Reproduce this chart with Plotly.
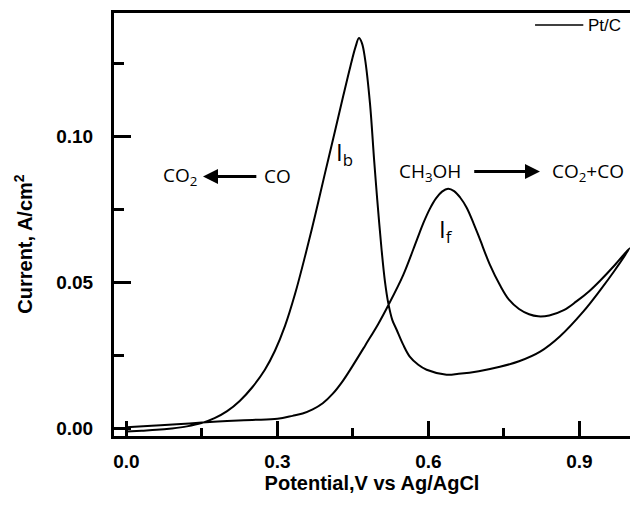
import plotly.graph_objects as go

# Forward (anodic) scan, 0 -> 1.0 V
fwd_x = [0.0, 0.05, 0.10, 0.15, 0.20, 0.25, 0.30, 0.33, 0.35, 0.37, 0.39, 0.41, 0.43, 0.45,
         0.475, 0.50, 0.52, 0.55, 0.577, 0.59, 0.603, 0.615, 0.627, 0.639, 0.651, 0.663,
         0.676, 0.69, 0.702, 0.722, 0.742, 0.76, 0.78, 0.80, 0.818, 0.84, 0.87, 0.894,
         0.92, 0.941, 0.97, 1.0]
fwd_y = [0.0003, 0.0008, 0.0013, 0.0019, 0.0024, 0.0028, 0.0032, 0.0042, 0.0050, 0.0064,
         0.0085, 0.0118, 0.0162, 0.0215, 0.0285, 0.0356, 0.0420, 0.0525, 0.0645, 0.0703,
         0.0752, 0.0787, 0.0810, 0.0820, 0.0812, 0.0790, 0.0755, 0.0700, 0.0648, 0.0560,
         0.0490, 0.0440, 0.0408, 0.0390, 0.0383, 0.0386, 0.0405, 0.0434, 0.0470, 0.0505,
         0.0558, 0.0617]

# Reverse (cathodic) scan, 1.0 -> 0 V
rev_x = [1.0, 0.97, 0.941, 0.908, 0.861, 0.822, 0.78, 0.742, 0.70, 0.66, 0.636, 0.5964,
         0.5798, 0.5629, 0.55, 0.5368, 0.5281, 0.5202, 0.5136, 0.5069, 0.4983, 0.492,
         0.4838, 0.474, 0.468, 0.462, 0.455, 0.445, 0.431, 0.414, 0.394, 0.375, 0.355,
         0.335, 0.315, 0.295, 0.275, 0.25, 0.225, 0.20, 0.175, 0.149, 0.12, 0.09, 0.06,
         0.03, 0.0]
rev_y = [0.0617, 0.0540, 0.0472, 0.0400, 0.0314, 0.0262, 0.0229, 0.0210, 0.0195, 0.0186,
         0.0183, 0.0200, 0.0217, 0.0245, 0.0285, 0.0337, 0.0371, 0.0428, 0.0502, 0.0611,
         0.0782, 0.0920, 0.1113, 0.1265, 0.1318, 0.1336, 0.1305, 0.1240, 0.1140, 0.1015,
         0.0870, 0.0730, 0.0590, 0.0460, 0.0350, 0.0265, 0.0200, 0.0140, 0.0093, 0.0058,
         0.0034, 0.0017, 0.0006, -0.0001, -0.0006, -0.0009, -0.0012]

x_ticks = [0.0, 0.3, 0.6, 0.9]
y_ticks = [0.00, 0.05, 0.10]
series_name = "Pt/C"

fig = go.Figure()
fig.add_trace(go.Scatter(x=fwd_x + rev_x[1:], y=fwd_y + rev_y[1:], mode="lines",
                         line=dict(color="black", width=2, shape="spline", smoothing=1.0),
                         name=series_name, showlegend=False))

bold = dict(family="Liberation Sans, Arial", size=19, color="black", weight="bold")
ann_font = dict(family="Open Sans, Noto Sans", size=19, color="black")

fig.update_layout(
    width=630, height=508,
    margin=dict(l=114, r=0, t=13, b=72),
    paper_bgcolor="white", plot_bgcolor="white",
    xaxis=dict(range=[-0.0248, 1.0005], tickvals=x_ticks, tickformat=".1f",
               ticks="inside", ticklen=15, tickwidth=2.5, tickcolor="black",
               minor=dict(ticks="inside", ticklen=8, tickwidth=2.5, tickcolor="black",
                          tick0=0, dtick=0.15),
               showline=True, linewidth=3, linecolor="black", mirror=True,
               showgrid=False, zeroline=False, tickfont=bold, ticklabelstandoff=6,
               title=dict(text="Potential,V vs Ag/AgCl",
                          font=dict(family="Liberation Sans, Arial", size=20,
                                    color="black", weight="bold"), standoff=4)),
    yaxis=dict(range=[-0.0027, 0.1422], tickvals=y_ticks, tickformat=".2f",
               ticks="inside", ticklen=17, tickwidth=2.5, tickcolor="black",
               minor=dict(ticks="inside", ticklen=10, tickwidth=2.5, tickcolor="black",
                          tick0=0, dtick=0.025),
               showline=True, linewidth=3, linecolor="black", mirror=False,
               showgrid=False, zeroline=False, tickfont=bold, ticklabelstandoff=14),
)

# y-axis title placed as annotation
fig.add_annotation(x=-0.176, y=0.455, xref="paper", yref="paper", textangle=-90,
                   xanchor="center", yanchor="middle",
                   text="Current, A/cm<sup>2</sup>", showarrow=False,
                   font=dict(family="Liberation Sans, Arial", size=20, color="black",
                             weight="bold"))

# reaction labels
fig.add_annotation(x=0.145, y=0.0862, text="CO<sub>2</sub>", showarrow=False,
                   xanchor="right", yanchor="middle", font=ann_font)
fig.add_annotation(x=0.152, y=0.0862, ax=0.261, ay=0.0862, axref="x", ayref="y",
                   text="", showarrow=True, arrowhead=2, arrowsize=1, arrowwidth=3,
                   arrowcolor="black")
fig.add_annotation(x=0.27, y=0.0862, text="CO", showarrow=False,
                   xanchor="left", yanchor="middle", font=ann_font)
fig.add_annotation(x=0.538, y=0.0879, text="CH<sub>3</sub>OH", showarrow=False,
                   xanchor="left", yanchor="middle", font=ann_font)
fig.add_annotation(x=0.8216, y=0.0879, ax=0.688, ay=0.0879, axref="x", ayref="y",
                   text="", showarrow=True, arrowhead=2, arrowsize=1, arrowwidth=3,
                   arrowcolor="black")
fig.add_annotation(x=0.842, y=0.0879, text="CO<sub>2</sub>+CO", showarrow=False,
                   xanchor="left", yanchor="middle", font=ann_font)
fig.add_annotation(x=0.412, y=0.0942, text="I<sub>b</sub>", showarrow=False,
                   xanchor="left", yanchor="middle",
                   font=dict(family="Open Sans, Noto Sans", size=24, color="black"))
fig.add_annotation(x=0.617, y=0.0678, text="I<sub>f</sub>", showarrow=False,
                   xanchor="left", yanchor="middle",
                   font=dict(family="Open Sans, Noto Sans", size=24, color="black"))

# legend sample
fig.add_shape(type="line", xref="paper", yref="paper", x0=0.816, x1=0.9095,
              y0=0.9716, y1=0.9716, line=dict(color="black", width=1.5))
fig.add_annotation(x=0.914, y=0.9716, xref="paper", yref="paper", text=series_name,
                   showarrow=False, xanchor="left", yanchor="middle",
                   font=dict(family="Liberation Sans, Arial", size=17, color="black"))

fig.write_html("out.html")
